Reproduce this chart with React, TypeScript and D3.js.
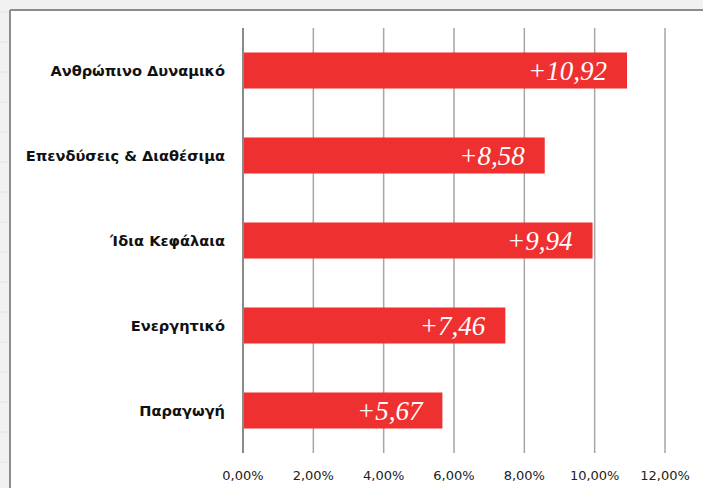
import React from "react";
import * as d3 from "d3";

const categories = [
  "Ανθρώπινο Δυναμικό",
  "Επενδύσεις & Διαθέσιμα",
  "Ίδια Κεφάλαια",
  "Ενεργητικό",
  "Παραγωγή",
];
const values = [10.92, 8.58, 9.94, 7.46, 5.67];
const valueLabels = ["+10,92", "+8,58", "+9,94", "+7,46", "+5,67"];
const ticks = [0, 2, 4, 6, 8, 10, 12];
const tickLabels = ["0,00%", "2,00%", "4,00%", "6,00%", "8,00%", "10,00%", "12,00%"];

const W = 703;
const H = 488;

export default function App() {
  const x = d3.scaleLinear().domain([0, 12]).range([243, 665]);
  const y = d3
    .scaleBand<string>()
    .domain(categories)
    .range([28, 453])
    .paddingInner(0.576)
    .paddingOuter(0.288);

  const stripLines = d3.range(12, H, 30);

  return (
    <svg
      width={W}
      height={H}
      style={{ position: "absolute", left: 0, top: 0, display: "block" }}
    >
      <rect x={0} y={0} width={W} height={H} fill="#f1f1f1" />
      {stripLines.map((v, i) => (
        <line key={i} x1={0} x2={10} y1={v} y2={v} stroke="#e2e2e2" strokeWidth={1} />
      ))}
      <rect x={11} y={11} width={W - 11} height={H - 11} fill="#ffffff" />
      <line x1={10} x2={W} y1={10} y2={10} stroke="#8c8c8c" strokeWidth={2} />
      <line x1={10} x2={10} y1={10} y2={H} stroke="#8c8c8c" strokeWidth={2} />

      {ticks.map((t, i) => (
        <line
          key={"g" + i}
          x1={x(t)}
          x2={x(t)}
          y1={28}
          y2={453}
          stroke={i === 0 ? "#8a8a8a" : "#a6a6a6"}
          strokeWidth={i === 0 ? 2 : 1.5}
        />
      ))}

      {categories.map((c, i) => (
        <g key={c}>
          <rect
            x={x(0) + 1}
            y={y(c)!}
            width={x(values[i]) - x(0) - 1}
            height={y.bandwidth()}
            fill="#ef3030"
          />
          <text
            x={x(values[i]) - 20}
            y={y(c)! + y.bandwidth() / 2 + 9}
            textAnchor="end"
            fill="#ffffff"
            fontFamily="'Liberation Serif', 'Times New Roman', serif"
            fontStyle="italic"
            fontSize={27}
          >
            {valueLabels[i]}
          </text>
          <text
            x={225}
            y={y(c)! + y.bandwidth() / 2 + 5}
            textAnchor="end"
            fill="#111111"
            fontFamily="'DejaVu Sans', Verdana, sans-serif"
            fontWeight="bold"
            fontSize={14.6}
          >
            {c}
          </text>
        </g>
      ))}

      {ticks.map((t, i) => (
        <text
          key={"t" + i}
          x={x(t)}
          y={480}
          textAnchor="middle"
          fill="#222222"
          fontFamily="'DejaVu Sans', Verdana, sans-serif"
          fontSize={13}
        >
          {tickLabels[i]}
        </text>
      ))}
    </svg>
  );
}
